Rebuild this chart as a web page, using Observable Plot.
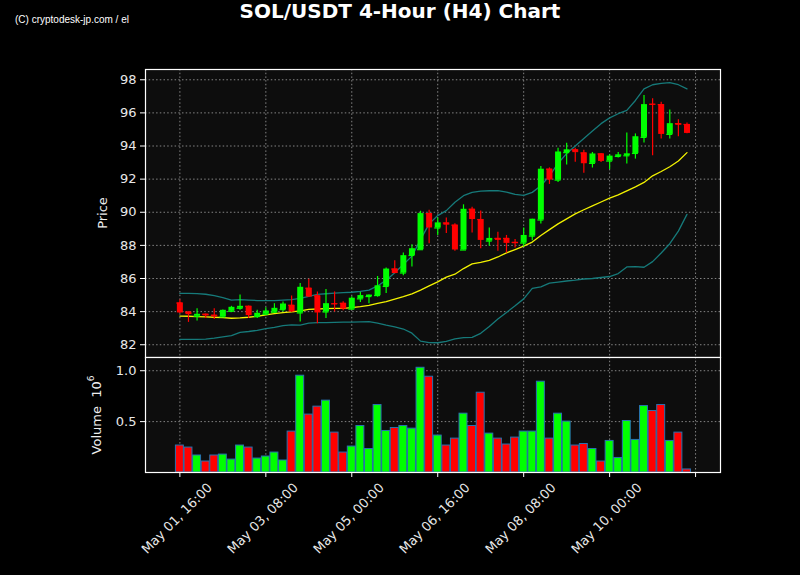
<!DOCTYPE html>
<html><head><meta charset="utf-8">
<script src="https://cdn.jsdelivr.net/npm/d3@7"></script>
<script src="https://cdn.jsdelivr.net/npm/@observablehq/plot@0.6"></script>
<style>
html,body{margin:0;padding:0;background:#000;}
#wrap{position:relative;width:800px;height:575px;background:#000;overflow:hidden;font-family:"DejaVu Sans",sans-serif;color:#fff;}
#title{position:absolute;left:0;top:0;width:800px;text-align:center;font-weight:bold;font-size:20px;line-height:23px;color:#fff;}
#wm{position:absolute;left:15px;top:14px;font-family:"Liberation Sans Narrow","Liberation Sans",sans-serif;font-size:10px;color:#fff;white-space:nowrap;}
.ylab{position:absolute;font-size:13px;color:#eee;transform:translate(-50%,-50%) rotate(-90deg);white-space:nowrap;line-height:16px;}
.ylab sup{font-size:9px;vertical-align:7px;line-height:0;}
#price,#vol{position:absolute;left:0;}
</style></head><body>
<div id="wrap">
<div id="title">SOL/USDT 4-Hour (H4) Chart</div>
<div id="wm">(C) cryptodesk-jp.com / el</div>
<div id="price" style="top:0"></div>
<div id="vol" style="top:357px"></div>
<div class="ylab" style="left:103px;top:213px">Price</div>
<div class="ylab" style="left:97px;top:415px">Volume&nbsp;&nbsp;10<sup>6</sup></div>
</div>
<script>
// ---- data ----
const times = [
 "05-01 16","05-01 20",
 "05-02 00","05-02 04","05-02 08","05-02 12","05-02 16","05-02 20",
 "05-03 00","05-03 04","05-03 08","05-03 12","05-03 16","05-03 20",
 "05-04 00","05-04 04","05-04 08","05-04 12","05-04 16","05-04 20",
 "05-05 00","05-05 04","05-05 08","05-05 12","05-05 16","05-05 20",
 "05-06 00","05-06 04","05-06 08","05-06 12","05-06 16","05-06 20",
 "05-07 00","05-07 04","05-07 08","05-07 12","05-07 16","05-07 20",
 "05-08 00","05-08 04","05-08 08","05-08 12","05-08 16","05-08 20",
 "05-09 00","05-09 04","05-09 08","05-09 12","05-09 16","05-09 20",
 "05-10 00","05-10 04","05-10 08","05-10 12","05-10 16","05-10 20",
 "05-11 00","05-11 04","05-11 08","05-11 12"
];
const opens  = [84.52,83.97,83.72,83.84,83.78,83.68,84.02,84.20,84.32,83.70,83.84,83.96,84.12,84.38,83.92,85.41,84.95,83.98,84.47,84.50,
                84.15,84.77,84.91,84.97,85.52,86.57,86.33,87.39,87.74,89.92,89.05,89.35,89.22,87.72,90.18,89.56,88.26,88.42,88.42,88.18,
                88.14,88.56,89.53,92.60,91.94,93.60,93.77,93.58,92.95,93.52,93.09,93.37,93.41,93.55,94.52,96.52,96.50,94.70,95.35,95.30];
const highs  = [84.70,83.99,84.18,83.86,84.18,84.10,84.32,85.00,84.34,84.08,84.24,84.48,84.58,84.95,85.70,85.96,85.19,85.33,85.19,84.60,
                84.90,85.15,85.00,86.12,86.63,87.07,87.54,88.04,90.06,90.12,89.66,89.66,89.31,90.45,90.30,90.08,89.05,88.80,88.60,88.35,
                89.05,89.58,92.77,92.68,93.86,94.17,93.87,93.75,93.61,93.55,93.47,93.61,94.79,94.73,97.05,96.85,96.64,96.18,95.58,95.39];
const lows   = [83.88,83.35,83.43,83.58,83.52,83.66,83.94,84.08,83.58,83.58,83.82,83.92,83.98,83.95,83.37,84.85,83.27,83.58,83.98,84.06,
                84.10,84.55,84.47,84.87,85.10,86.28,86.16,86.69,87.74,88.10,88.59,88.71,87.64,87.72,88.75,87.80,87.94,87.64,87.53,87.84,
                87.90,88.28,89.29,91.68,91.79,92.85,93.02,92.36,92.67,93.00,92.58,93.27,92.91,93.21,94.18,93.41,94.42,94.42,94.56,94.74];
const closes = [83.92,83.82,83.84,83.74,83.68,84.08,84.26,84.32,83.76,83.90,84.04,84.20,84.46,83.98,85.47,84.88,83.92,84.48,84.43,84.15,
                84.81,84.97,85.00,85.56,86.57,86.30,87.38,87.80,89.92,89.05,89.36,89.22,87.72,90.18,89.56,88.30,88.42,88.30,88.12,88.10,
                88.60,89.58,92.60,91.94,93.64,93.77,93.60,92.93,93.52,93.07,93.39,93.47,93.53,94.56,96.50,96.47,94.70,95.35,95.25,94.76];
const volumes = [0.265,0.245,0.167,0.108,0.167,0.176,0.127,0.265,0.245,0.137,0.157,0.196,0.118,0.402,0.951,0.569,0.647,0.706,0.392,0.196,
                 0.255,0.457,0.231,0.663,0.408,0.437,0.457,0.431,1.029,0.941,0.363,0.265,0.333,0.578,0.457,0.784,0.382,0.333,0.275,0.343,
                 0.402,0.402,0.892,0.333,0.578,0.500,0.265,0.280,0.231,0.108,0.310,0.143,0.506,0.320,0.653,0.604,0.663,0.310,0.392,0.030];
const sma    = [83.73,83.72,83.70,83.68,83.66,83.64,83.60,83.62,83.66,83.72,83.80,83.88,83.94,83.98,84.04,84.14,84.16,84.18,84.20,84.20,
                84.24,84.30,84.38,84.50,84.60,84.75,84.90,85.07,85.30,85.55,85.80,86.08,86.26,86.60,86.88,86.98,87.10,87.30,87.55,87.75,
                87.96,88.20,88.60,88.95,89.30,89.60,89.90,90.15,90.38,90.62,90.85,91.05,91.29,91.53,91.80,92.20,92.46,92.75,93.10,93.60];
const upper  = [85.10,85.10,85.09,85.05,84.97,84.85,84.70,84.72,84.70,84.67,84.67,84.67,84.70,84.72,84.80,84.92,85.04,85.08,85.12,85.15,
                85.17,85.22,85.30,85.55,85.90,86.35,86.85,87.35,88.35,89.30,89.80,90.10,90.60,91.00,91.20,91.28,91.30,91.30,91.22,91.08,
                91.02,91.20,91.60,92.20,92.95,93.55,94.00,94.45,94.90,95.35,95.70,95.95,96.15,96.75,97.45,97.70,97.78,97.83,97.70,97.45];
const lower  = [82.32,82.32,82.33,82.34,82.40,82.48,82.55,82.75,82.80,82.87,82.97,83.05,83.15,83.20,83.18,83.30,83.33,83.34,83.35,83.36,
                83.37,83.38,83.39,83.30,83.18,83.08,82.95,82.70,82.22,82.13,82.12,82.20,82.35,82.43,82.45,82.69,83.10,83.55,83.95,84.35,
                84.77,85.40,85.50,85.72,85.78,85.85,85.90,85.97,86.00,86.06,86.12,86.30,86.70,86.72,86.68,87.02,87.54,88.10,88.86,89.87];
const priceTicks = [82,84,86,88,90,92,94,96,98];
const volumeTicks = [0.5,1.0];
const tickTimes = ["05-01 16","05-03 08","05-05 00","05-06 16","05-08 08","05-10 00","05-11 16"];
const tickLabels = ["May 01, 16:00","May 03, 08:00","May 05, 00:00","May 06, 16:00","May 08, 08:00","May 10, 00:00",""];

// ---- build ----
const parse = s => new Date(`2025-${s.slice(0,2)}-${s.slice(3,5)}T${s.slice(6,8)}:00:00Z`);
const H = 3600e3;
const candles = times.map((t,i)=>({date:parse(t),open:opens[i],high:highs[i],low:lows[i],close:closes[i],
  volume:volumes[i],sma:sma[i],upper:upper[i],lower:lower[i]}));
const ticks = tickTimes.map((t,i)=>({date:parse(t),label:tickLabels[i]}));
const UP="#00ff00", DOWN="#ff0000";
const col = d => d.close >= d.open ? UP : DOWN;
const xDomain = [new Date(Date.UTC(2025,4,1,0,0)), new Date(Date.UTC(2025,4,12,3,36))];
const gridStyle = {stroke:"#9a9a9a", strokeOpacity:0.85, strokeDasharray:"1.5,2.2", strokeWidth:1};
const svgStyle = {background:"transparent", color:"#e8e8e8", fontFamily:"DejaVu Sans, sans-serif", fontSize:"13px", overflow:"visible"};

const price = Plot.plot({
  width:800, height:357, marginTop:69, marginBottom:0, marginLeft:145, marginRight:80,
  style: svgStyle,
  x:{type:"utc", domain:xDomain, axis:null},
  y:{domain:[81.23,98.62], axis:null},
  color:{type:"identity"},
  marks:[
    Plot.frame({fill:"#0d0d0d"}),
    Plot.gridX(ticks.map(d=>d.date), {...gridStyle}),
    Plot.gridY(priceTicks, {...gridStyle}),
    Plot.axisY(priceTicks, {tickSize:5, tickPadding:4, tickFormat:d=>String(d), stroke:"#ffffff", fill:"#e8e8e8", label:null}),
    Plot.line(candles, {x:"date", y:"upper", stroke:"#167a7a", strokeWidth:1.3}),
    Plot.line(candles, {x:"date", y:"lower", stroke:"#167a7a", strokeWidth:1.3}),
    Plot.line(candles, {x:"date", y:"sma", stroke:"#f2f200", strokeWidth:1.3}),
    Plot.ruleX(candles, {x:"date", y1:"low", y2:"high", stroke:col, strokeWidth:1.2}),
    Plot.ruleX(candles, {x:"date", y1:"open", y2:"close", stroke:col, strokeWidth:6}),
    Plot.ruleY(candles, {y:"open", x1:d=>new Date(+d.date-1.4*H), x2:d=>new Date(+d.date+1.4*H), stroke:col, strokeWidth:1.2}),
    Plot.frame({stroke:"#ffffff", strokeWidth:1.2})
  ]
});
document.getElementById("price").appendChild(price);

const vol = Plot.plot({
  width:800, height:218, marginTop:0, marginBottom:103, marginLeft:145, marginRight:80,
  style: svgStyle,
  x:{type:"utc", domain:xDomain, axis:null},
  y:{domain:[0,1.13], axis:null},
  color:{type:"identity"},
  marks:[
    Plot.frame({fill:"#0d0d0d"}),
    Plot.gridX(ticks.map(d=>d.date), {...gridStyle}),
    Plot.gridY(volumeTicks, {...gridStyle}),
    Plot.axisY(volumeTicks, {tickSize:5, tickPadding:4, tickFormat:d3.format(".1f"), stroke:"#ffffff", fill:"#e8e8e8", label:null}),
    Plot.axisX(ticks.map(d=>d.date), {tickSize:5, tickFormat:()=>"", stroke:"#ffffff", label:null}),
    Plot.rectY(candles, {x1:d=>new Date(+d.date-1.85*H), x2:d=>new Date(+d.date+1.85*H), y:"volume", fill:col, stroke:"#2872b0", strokeWidth:1}),
    Plot.text(ticks, {x:"date", text:"label", frameAnchor:"bottom", dy:49, rotate:-45, fill:"#e8e8e8", fontSize:13}),
    Plot.frame({stroke:"#ffffff", strokeWidth:1.2})
  ]
});
document.getElementById("vol").appendChild(vol);
</script>
</body></html>
